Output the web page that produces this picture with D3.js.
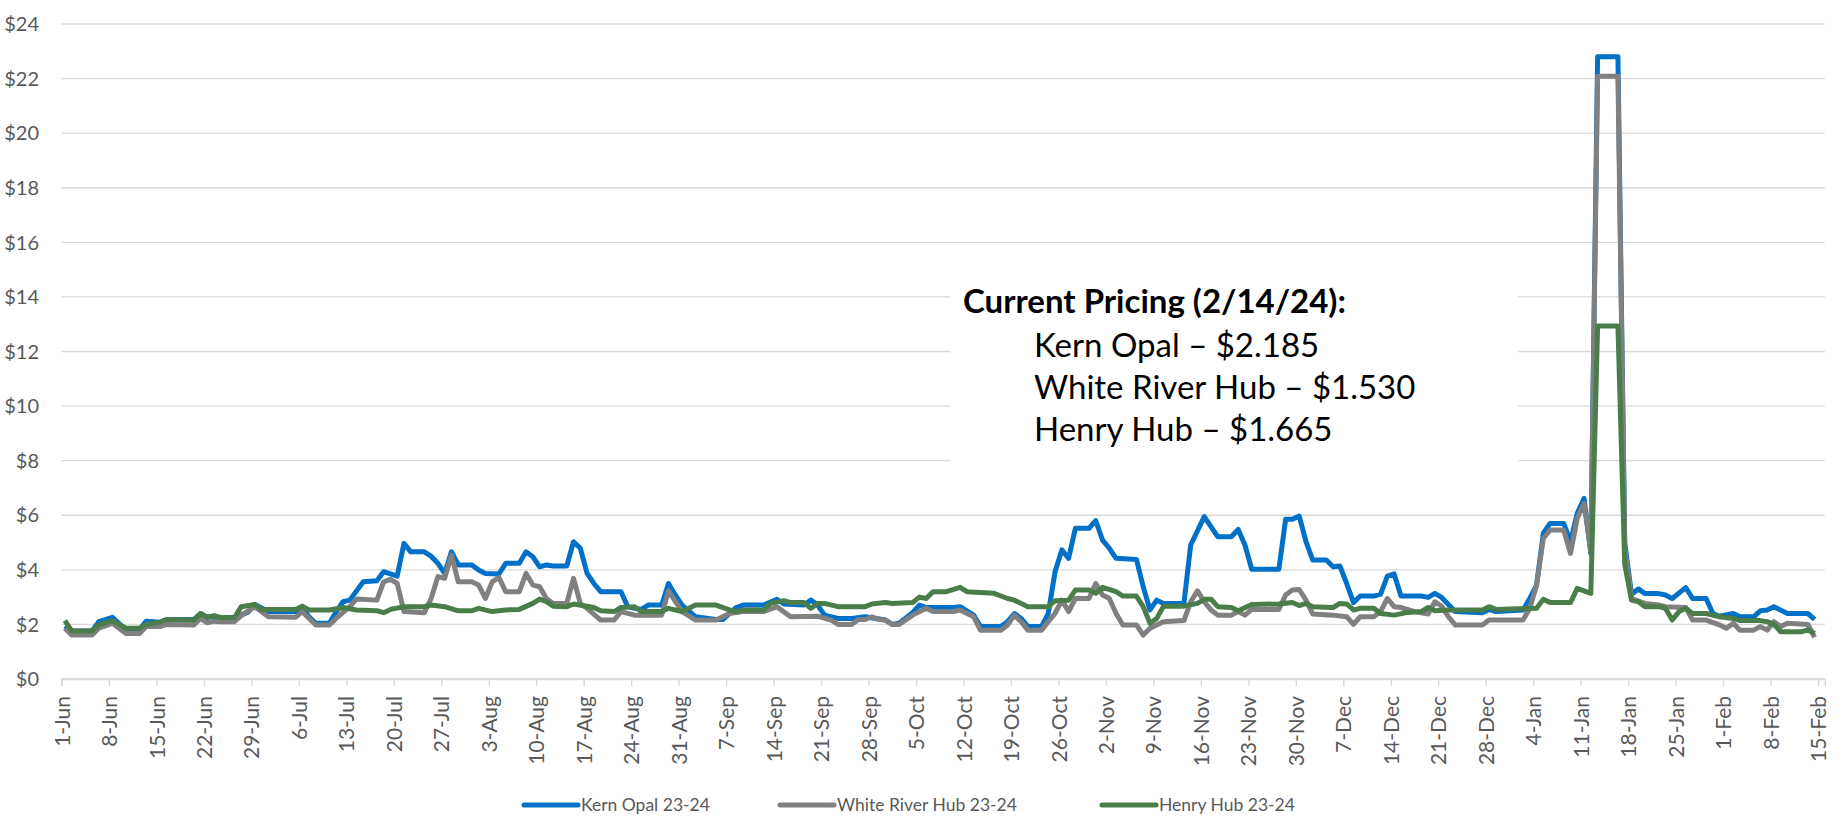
<!DOCTYPE html>
<html>
<head>
<meta charset="utf-8">
<script src="https://cdn.jsdelivr.net/npm/d3@7"></script>
<style>
  body { margin: 0; background: #ffffff; }
  text { font-family: Lato, "Open Sans", sans-serif; }
</style>
</head>
<body>
<script>
// daily prices ($/MMBtu), only the dates where the line bends
var kernOpal = [
  ["6/1/23",1.94],["6/2/23",1.76],["6/5/23",1.76],["6/6/23",2.10],["6/8/23",2.26],["6/10/23",1.80],["6/12/23",1.80],
  ["6/13/23",2.12],["6/15/23",2.08],["6/16/23",2.18],["6/20/23",2.18],["6/21/23",2.40],["6/22/23",2.26],["6/23/23",2.30],
  ["6/24/23",2.25],["6/26/23",2.25],["6/28/23",2.45],["6/29/23",2.73],["6/30/23",2.60],["7/1/23",2.47],["7/5/23",2.47],
  ["7/6/23",2.60],["7/7/23",2.28],["7/8/23",2.04],["7/10/23",2.04],["7/11/23",2.46],["7/12/23",2.83],["7/13/23",2.89],
  ["7/15/23",3.56],["7/17/23",3.60],["7/18/23",3.93],["7/20/23",3.77],["7/21/23",4.97],["7/22/23",4.66],["7/24/23",4.66],
  ["7/25/23",4.50],["7/26/23",4.24],["7/27/23",3.87],["7/28/23",4.66],["7/29/23",4.18],["7/31/23",4.18],["8/1/23",3.99],
  ["8/2/23",3.87],["8/4/23",3.85],["8/5/23",4.24],["8/7/23",4.24],["8/8/23",4.66],["8/9/23",4.48],["8/10/23",4.11],
  ["8/11/23",4.18],["8/12/23",4.14],["8/14/23",4.14],["8/15/23",5.03],["8/16/23",4.79],["8/17/23",3.87],["8/18/23",3.50],
  ["8/19/23",3.20],["8/22/23",3.20],["8/23/23",2.65],["8/24/23",2.59],["8/25/23",2.55],["8/26/23",2.71],["8/28/23",2.71],
  ["8/29/23",3.50],["8/30/23",3.08],["8/31/23",2.71],["9/2/23",2.28],["9/5/23",2.18],["9/6/23",2.18],["9/8/23",2.62],
  ["9/9/23",2.71],["9/12/23",2.71],["9/14/23",2.92],["9/15/23",2.75],["9/18/23",2.71],["9/19/23",2.89],["9/20/23",2.71],
  ["9/21/23",2.34],["9/23/23",2.22],["9/25/23",2.22],["9/27/23",2.28],["9/30/23",2.16],["10/1/23",2.00],["10/2/23",2.04],
  ["10/4/23",2.43],["10/5/23",2.71],["10/6/23",2.62],["10/10/23",2.62],["10/11/23",2.65],["10/13/23",2.34],["10/14/23",1.92],
  ["10/17/23",1.92],["10/18/23",2.10],["10/19/23",2.40],["10/20/23",2.22],["10/21/23",1.92],["10/23/23",1.92],["10/24/23",2.40],
  ["10/25/23",3.93],["10/26/23",4.73],["10/27/23",4.42],["10/28/23",5.52],["10/30/23",5.52],["10/31/23",5.80],["11/1/23",5.09],
  ["11/2/23",4.79],["11/3/23",4.42],["11/6/23",4.38],["11/7/23",3.38],["11/8/23",2.53],["11/9/23",2.89],["11/10/23",2.77],
  ["11/13/23",2.77],["11/14/23",4.91],["11/16/23",5.95],["11/18/23",5.21],["11/20/23",5.21],["11/21/23",5.48],["11/22/23",4.91],
  ["11/23/23",4.02],["11/27/23",4.02],["11/28/23",5.85],["11/29/23",5.85],["11/30/23",5.97],["12/1/23",5.03],["12/2/23",4.36],
  ["12/4/23",4.36],["12/5/23",4.11],["12/6/23",4.14],["12/7/23",3.50],["12/8/23",2.80],["12/9/23",3.04],["12/11/23",3.04],
  ["12/12/23",3.11],["12/13/23",3.77],["12/14/23",3.85],["12/15/23",3.04],["12/18/23",3.04],["12/19/23",2.99],["12/20/23",3.14],
  ["12/21/23",2.99],["12/23/23",2.47],["12/27/23",2.43],["12/28/23",2.55],["12/29/23",2.47],["1/2/24",2.53],["1/3/24",2.95],
  ["1/4/24",3.44],["1/5/24",5.34],["1/6/24",5.70],["1/8/24",5.70],["1/9/24",5.03],["1/10/24",6.07],["1/11/24",6.62],
  ["1/12/24",4.60],["1/13/24",22.80],["1/16/24",22.80],["1/17/24",5.00],["1/18/24",3.10],["1/19/24",3.30],["1/20/24",3.13],
  ["1/22/24",3.13],["1/23/24",3.08],["1/24/24",2.95],["1/26/24",3.35],["1/27/24",2.95],["1/29/24",2.95],["1/30/24",2.40],
  ["1/31/24",2.30],["2/2/24",2.40],["2/3/24",2.28],["2/5/24",2.28],["2/6/24",2.50],["2/7/24",2.53],["2/8/24",2.65],
  ["2/10/24",2.40],["2/13/24",2.40],["2/14/24",2.185]
];

var whiteRiverHub = [
  ["6/1/23",1.86],["6/2/23",1.61],["6/5/23",1.61],["6/6/23",1.86],["6/8/23",2.04],["6/10/23",1.67],["6/12/23",1.67],
  ["6/13/23",1.92],["6/15/23",1.92],["6/16/23",2.00],["6/20/23",1.98],["6/21/23",2.22],["6/22/23",2.06],["6/23/23",2.12],
  ["6/24/23",2.10],["6/26/23",2.10],["6/27/23",2.32],["6/29/23",2.65],["7/1/23",2.28],["7/5/23",2.26],["7/6/23",2.47],
  ["7/7/23",2.22],["7/8/23",1.98],["7/10/23",1.98],["7/11/23",2.22],["7/13/23",2.65],["7/14/23",2.93],["7/17/23",2.89],
  ["7/18/23",3.56],["7/19/23",3.65],["7/20/23",3.50],["7/21/23",2.47],["7/24/23",2.43],["7/25/23",2.95],["7/26/23",3.75],
  ["7/27/23",3.69],["7/28/23",4.54],["7/29/23",3.56],["7/31/23",3.56],["8/1/23",3.44],["8/2/23",2.95],["8/3/23",3.56],
  ["8/4/23",3.72],["8/5/23",3.20],["8/7/23",3.20],["8/8/23",3.87],["8/9/23",3.44],["8/10/23",3.38],["8/11/23",2.95],
  ["8/12/23",2.77],["8/14/23",2.77],["8/15/23",3.69],["8/16/23",2.77],["8/17/23",2.59],["8/19/23",2.16],["8/21/23",2.16],
  ["8/22/23",2.47],["8/24/23",2.34],["8/28/23",2.34],["8/29/23",3.23],["8/31/23",2.47],["9/2/23",2.16],["9/5/23",2.16],
  ["9/7/23",2.40],["9/9/23",2.47],["9/12/23",2.47],["9/14/23",2.65],["9/16/23",2.28],["9/20/23",2.30],["9/22/23",2.16],
  ["9/23/23",2.00],["9/25/23",2.00],["9/26/23",2.18],["9/27/23",2.18],["9/28/23",2.28],["9/29/23",2.18],["9/30/23",2.16],
  ["10/1/23",2.00],["10/2/23",2.00],["10/4/23",2.34],["10/6/23",2.59],["10/7/23",2.47],["10/10/23",2.47],["10/11/23",2.53],
  ["10/13/23",2.28],["10/14/23",1.79],["10/17/23",1.79],["10/18/23",1.98],["10/19/23",2.34],["10/20/23",2.10],["10/21/23",1.79],
  ["10/23/23",1.79],["10/24/23",2.10],["10/25/23",2.40],["10/26/23",2.89],["10/27/23",2.47],["10/28/23",2.95],["10/30/23",2.95],
  ["10/31/23",3.50],["11/1/23",3.08],["11/2/23",2.95],["11/3/23",2.40],["11/4/23",1.98],["11/6/23",1.98],["11/7/23",1.61],
  ["11/8/23",1.86],["11/10/23",2.10],["11/13/23",2.14],["11/14/23",2.83],["11/15/23",3.23],["11/16/23",2.83],["11/17/23",2.53],
  ["11/18/23",2.34],["11/20/23",2.34],["11/21/23",2.47],["11/22/23",2.34],["11/23/23",2.55],["11/27/23",2.55],["11/28/23",3.08],
  ["11/29/23",3.26],["11/30/23",3.28],["12/1/23",2.89],["12/2/23",2.38],["12/5/23",2.34],["12/7/23",2.28],["12/8/23",2.00],
  ["12/9/23",2.28],["12/11/23",2.28],["12/12/23",2.47],["12/13/23",2.95],["12/14/23",2.65],["12/15/23",2.62],["12/17/23",2.47],
  ["12/19/23",2.38],["12/20/23",2.83],["12/21/23",2.67],["12/22/23",2.28],["12/23/23",1.98],["12/27/23",1.98],["12/28/23",2.16],
  ["1/2/24",2.16],["1/3/24",2.59],["1/4/24",3.44],["1/5/24",5.15],["1/6/24",5.46],["1/8/24",5.46],["1/9/24",4.60],
  ["1/10/24",5.89],["1/11/24",6.43],["1/12/24",4.66],["1/13/24",22.09],["1/16/24",22.09],["1/17/24",4.80],["1/18/24",2.95],
  ["1/20/24",2.77],["1/22/24",2.71],["1/23/24",2.65],["1/26/24",2.62],["1/27/24",2.16],["1/29/24",2.16],["1/31/24",1.98],
  ["2/1/24",1.86],["2/2/24",2.04],["2/3/24",1.79],["2/5/24",1.79],["2/6/24",1.92],["2/7/24",1.79],["2/8/24",2.10],
  ["2/9/24",1.92],["2/10/24",2.04],["2/13/24",2.00],["2/14/24",1.53]
];

var henryHub = [
  ["6/1/23",2.14],["6/2/23",1.76],["6/5/23",1.76],["6/6/23",1.98],["6/8/23",2.14],["6/9/23",2.00],["6/10/23",1.86],
  ["6/12/23",1.86],["6/13/23",2.00],["6/15/23",2.08],["6/16/23",2.18],["6/20/23",2.15],["6/21/23",2.40],["6/22/23",2.26],
  ["6/23/23",2.32],["6/24/23",2.25],["6/26/23",2.25],["6/27/23",2.65],["6/29/23",2.73],["6/30/23",2.55],["7/5/23",2.55],
  ["7/6/23",2.67],["7/7/23",2.53],["7/10/23",2.53],["7/12/23",2.62],["7/14/23",2.53],["7/17/23",2.50],["7/18/23",2.43],
  ["7/19/23",2.55],["7/21/23",2.65],["7/24/23",2.65],["7/25/23",2.71],["7/27/23",2.65],["7/29/23",2.50],["7/31/23",2.50],
  ["8/1/23",2.59],["8/3/23",2.47],["8/5/23",2.53],["8/7/23",2.55],["8/9/23",2.77],["8/10/23",2.93],["8/11/23",2.83],
  ["8/12/23",2.67],["8/14/23",2.65],["8/15/23",2.75],["8/18/23",2.62],["8/19/23",2.50],["8/21/23",2.47],["8/22/23",2.62],
  ["8/24/23",2.65],["8/25/23",2.47],["8/28/23",2.47],["8/29/23",2.59],["8/31/23",2.47],["9/2/23",2.71],["9/5/23",2.71],
  ["9/7/23",2.53],["9/8/23",2.47],["9/9/23",2.53],["9/12/23",2.53],["9/13/23",2.77],["9/15/23",2.87],["9/16/23",2.80],
  ["9/18/23",2.80],["9/19/23",2.59],["9/20/23",2.77],["9/21/23",2.77],["9/23/23",2.65],["9/27/23",2.65],["9/28/23",2.75],
  ["9/30/23",2.80],["10/1/23",2.77],["10/4/23",2.80],["10/5/23",3.00],["10/6/23",2.95],["10/7/23",3.20],["10/9/23",3.20],
  ["10/11/23",3.36],["10/12/23",3.20],["10/16/23",3.14],["10/18/23",2.95],["10/19/23",2.89],["10/21/23",2.65],["10/24/23",2.65],
  ["10/25/23",2.87],["10/27/23",2.89],["10/28/23",3.26],["10/30/23",3.26],["10/31/23",3.14],["11/1/23",3.36],["11/3/23",3.20],
  ["11/4/23",3.04],["11/6/23",3.04],["11/7/23",2.65],["11/8/23",2.04],["11/9/23",2.22],["11/10/23",2.67],["11/13/23",2.67],
  ["11/15/23",2.77],["11/16/23",2.92],["11/17/23",2.92],["11/18/23",2.65],["11/20/23",2.62],["11/21/23",2.50],["11/23/23",2.73],
  ["11/27/23",2.75],["11/29/23",2.80],["11/30/23",2.69],["12/1/23",2.77],["12/2/23",2.65],["12/5/23",2.62],["12/6/23",2.77],
  ["12/7/23",2.75],["12/8/23",2.53],["12/9/23",2.59],["12/11/23",2.59],["12/12/23",2.40],["12/14/23",2.34],["12/16/23",2.44],
  ["12/18/23",2.47],["12/19/23",2.62],["12/20/23",2.50],["12/22/23",2.53],["12/27/23",2.53],["12/28/23",2.65],["12/29/23",2.55],
  ["1/4/24",2.59],["1/5/24",2.92],["1/6/24",2.80],["1/9/24",2.80],["1/10/24",3.32],["1/12/24",3.14],["1/13/24",12.93],
  ["1/16/24",12.93],["1/17/24",4.20],["1/18/24",2.89],["1/19/24",2.83],["1/20/24",2.65],["1/22/24",2.65],["1/23/24",2.59],
  ["1/24/24",2.16],["1/25/24",2.47],["1/26/24",2.59],["1/27/24",2.40],["1/29/24",2.40],["1/31/24",2.28],["2/2/24",2.22],
  ["2/3/24",2.14],["2/6/24",2.14],["2/7/24",2.10],["2/8/24",2.00],["2/9/24",1.73],["2/12/24",1.73],["2/13/24",1.80],
  ["2/14/24",1.665]
];

var seriesNames = ["Kern Opal 23-24", "White River Hub 23-24", "Henry Hub 23-24"];
var colors = {"Kern Opal 23-24": "#0070C8", "White River Hub 23-24": "#808080", "Henry Hub 23-24": "#4A7D4A"};
var yTicks = [0, 2, 4, 6, 8, 10, 12, 14, 16, 18, 20, 22, 24];
var firstDay = "6/1/23", lastDay = "2/16/24";   // axis runs to the end of 15-Feb
var pricingTitle = "Current Pricing (2/14/24):";
var pricingLines = ["Kern Opal \u2013 $2.185", "White River Hub \u2013 $1.530", "Henry Hub \u2013 $1.665"];

var width = 1845, height = 822;
var plot = {left: 61.5, right: 1824.8, top: 24, bottom: 679};

var parseDate = d3.utcParse("%m/%d/%y");

var svg = d3.select("body").append("svg")
    .attr("width", width)
    .attr("height", height)
    .style("background", "#ffffff");

var xScale = d3.scaleUtc()
    .domain([parseDate(firstDay), parseDate(lastDay)])
    .range([plot.left, plot.right]);
var yScale = d3.scaleLinear().domain([0, 24]).range([plot.bottom, plot.top]);

// gridlines
svg.append("g").selectAll("line").data(yTicks).enter().append("line")
    .attr("x1", plot.left).attr("x2", plot.right)
    .attr("y1", function (d) { return yScale(d); })
    .attr("y2", function (d) { return yScale(d); })
    .attr("stroke", "#d9d9d9").attr("stroke-width", 1.4);

// y labels
svg.append("g").selectAll("text").data(yTicks).enter().append("text")
    .attr("x", 39).attr("y", function (d) { return yScale(d); })
    .attr("dy", "0.36em").attr("text-anchor", "end")
    .attr("fill", "#595959").style("font-size", "20px")
    .text(function (d) { return "$" + d; });

// x axis: tick every 7 days
var xTicks = d3.utcDay.range(parseDate(firstDay), parseDate(lastDay), 7);
var xAxis = d3.axisBottom(xScale).tickValues(xTicks).tickSize(7).tickFormat(d3.utcFormat("%-d-%b"));
var gx = svg.append("g").attr("transform", "translate(0," + plot.bottom + ")").call(xAxis);
gx.select(".domain").attr("stroke", "#d9d9d9").attr("stroke-width", 1.4);
gx.selectAll(".tick line").attr("stroke", "#d9d9d9").attr("stroke-width", 1.4);
gx.selectAll(".tick text")
    .attr("fill", "#595959").style("font-size", "21px").style("font-family", "Lato, sans-serif")
    .attr("transform", "rotate(-90)")
    .attr("text-anchor", "end")
    .attr("x", -17).attr("y", 0).attr("dy", "0.36em");

// white text box behind the pricing note
svg.append("rect")
    .attr("x", 950).attr("y", 270).attr("width", 568).attr("height", 205)
    .attr("fill", "#ffffff");

var note = svg.append("g");
note.append("text")
    .attr("x", 963).attr("y", 313)
    .attr("fill", "#000000").style("font-size", "33px").style("font-weight", "bold")
    .text(pricingTitle);
note.selectAll("text.line").data(pricingLines).enter().append("text")
    .attr("class", "line")
    .attr("x", 1034).attr("y", function (d, i) { return 357 + i * 42; })
    .attr("fill", "#000000").style("font-size", "33px")
    .text(function (d) { return d; });

// lines
var line = d3.line()
    .x(function (d) { return xScale(d3.utcHour.offset(parseDate(d[0]), 12)); })
    .y(function (d) { return yScale(d[1]); });

var seriesData = [kernOpal, whiteRiverHub, henryHub];
svg.append("g").selectAll("path").data(seriesData).enter().append("path")
    .attr("d", line)
    .attr("fill", "none")
    .attr("stroke", function (d, i) { return colors[seriesNames[i]]; })
    .attr("stroke-width", 5)
    .attr("stroke-linejoin", "round");

// legend
var legendX = [524, 780, 1102];
var legend = svg.append("g").selectAll("g").data(seriesNames).enter().append("g")
    .attr("transform", function (d, i) { return "translate(" + legendX[i] + ",805)"; });
legend.append("line")
    .attr("x1", 0).attr("x2", 54).attr("y1", 0).attr("y2", 0)
    .attr("stroke", function (d) { return colors[d]; })
    .attr("stroke-width", 5).attr("stroke-linecap", "round");
legend.append("text")
    .attr("x", 57).attr("dy", "0.36em")
    .attr("fill", "#595959").style("font-size", "17.5px")
    .text(function (d) { return d; });
</script>
</body>
</html>
